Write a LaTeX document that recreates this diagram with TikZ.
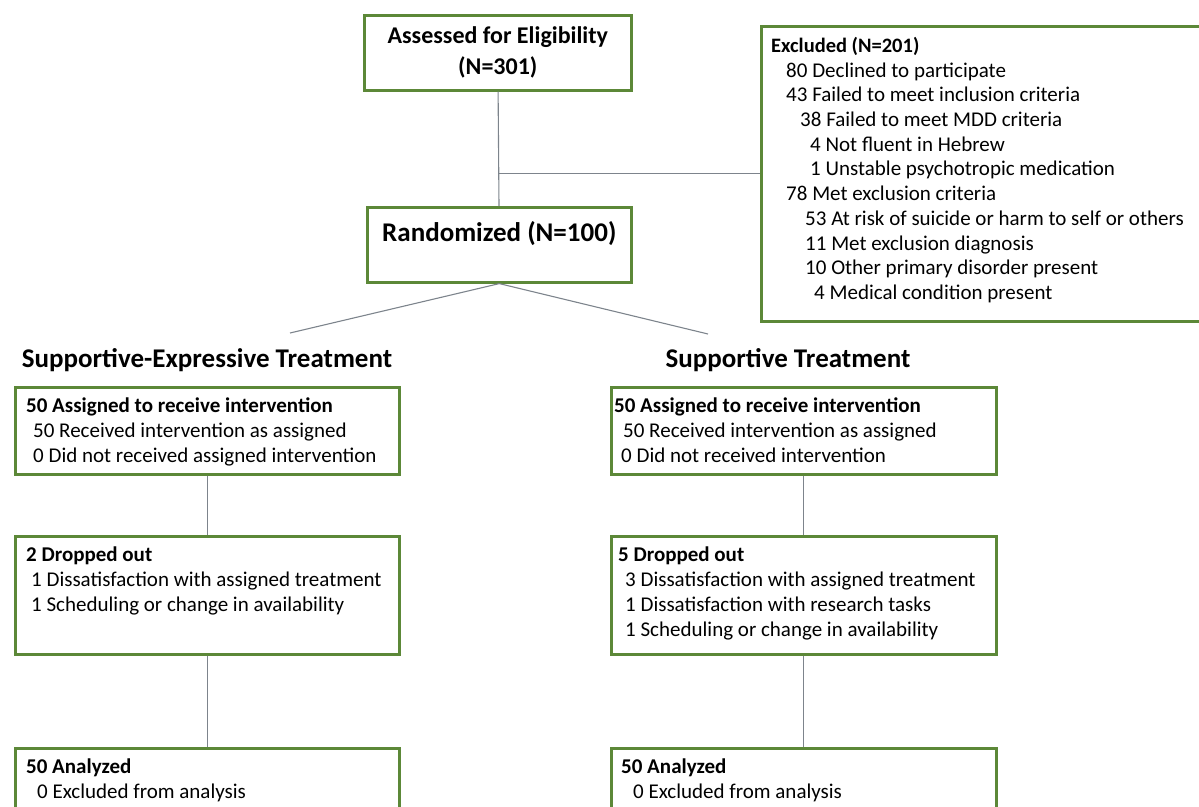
\documentclass[tikz,border=0pt]{standalone}
\usepackage{fontspec}
\setmainfont{Carlito}
\usetikzlibrary{positioning,calc}
\definecolor{boxgreen}{RGB}{92,136,56}
\definecolor{linkgray}{RGB}{125,132,140}

\begin{document}
\begin{tikzpicture}[x=1pt,y=-1pt,
  flowbox/.style={draw=boxgreen,line width=2.6pt,fill=white,inner sep=0pt,anchor=north west},
  boxtext/.style={anchor=north west,inner sep=0pt,align=left,font=\fontsize{21}{24.7}\selectfont},
  link/.style={draw=linkgray,line width=1.1pt},
  heading/.style={font=\fontsize{27}{30}\selectfont\bfseries}]
\useasboundingbox (0,0) rectangle (1199,806);
\clip (0,0) rectangle (1199,806);
% enrolment
\node[flowbox,minimum width=267pt,minimum height=75pt,align=center,font=\fontsize{24}{31}\selectfont\bfseries] (assess) at (363,14) {Assessed for Eligibility\\(N=301)};
\node[flowbox,minimum width=455pt,minimum height=295pt] (excl) at (760,25) {};
\node[boxtext] (exclt) at (771,37) {{\fontsize{20.5}{24.7}\selectfont\bfseries Excluded (N=201)}\\
\hspace*{15pt}80 Declined to participate\\
\hspace*{15pt}43 Failed to meet inclusion criteria\\
\hspace*{29pt}38 Failed to meet MDD criteria\\
\hspace*{39pt}4 Not fluent in Hebrew\\
\hspace*{39pt}1 Unstable psychotropic medication\\
\hspace*{15pt}78 Met exclusion criteria\\
\hspace*{34pt}53 At risk of suicide or harm to self or others\\
\hspace*{34pt}11 Met exclusion diagnosis\\
\hspace*{34pt}10 Other primary disorder present\\
\hspace*{43pt}4 Medical condition present};
\node[flowbox,minimum width=264pt,minimum height=75pt] (rand) at (366,206) {};
\node[heading,anchor=north,inner sep=0pt] (randt) at ([yshift=-15]rand.north) {Randomized (N=100)};
\draw[link] (assess) -- (rand);
\draw[link] (excl.west) -- (excl.west -| assess.south);
% allocation
\coordinate (seend) at (290,333);
\coordinate (stend) at (708,334);
\draw[link] (rand.south) -- (seend);
\draw[link] (rand.south) -- (stend);
\node[heading] (sehead) at (207,360) {Supportive-Expressive Treatment};
\node[heading] (sthead) at (788,360) {Supportive Treatment};
% supportive-expressive arm
\node[flowbox,minimum width=384pt,minimum height=87pt] (se1) at (14,386) {};
\node[boxtext] (se1t) at ([xshift=12,yshift=-12]se1.north west) {\textbf{50 Assigned to receive intervention}\\
\hspace*{7pt}50 Received intervention as assigned\\
\hspace*{7pt}0 Did not received assigned intervention};
\node[flowbox,minimum width=384pt,minimum height=118pt] (se2) at (14,535) {};
\node[boxtext] (se2t) at ([xshift=12,yshift=-12]se2.north west) {\textbf{2 Dropped out}\\
\hspace*{5pt}1 Dissatisfaction with assigned treatment\\
\hspace*{5pt}1 Scheduling or change in availability};
\node[flowbox,minimum width=384pt,minimum height=100pt] (se3) at (14,747) {};
\node[boxtext] (se3t) at ([xshift=12,yshift=-12]se3.north west) {\textbf{50 Analyzed}\\
\hspace*{11pt}0 Excluded from analysis};
\draw[link] (se1) -- (se2);
\draw[link] (se2) -- (se3);
% supportive arm
\node[flowbox,minimum width=385pt,minimum height=87pt] (st1) at (610,386) {};
\node[boxtext] (st1t) at ([xshift=4,yshift=-12]st1.north west) {\textbf{50 Assigned to receive intervention}\\
\hspace*{9pt}50 Received intervention as assigned\\
\hspace*{7pt}0 Did not received intervention};
\node[flowbox,minimum width=385pt,minimum height=118pt] (st2) at (610,535) {};
\node[boxtext] (st2t) at ([xshift=8,yshift=-12]st2.north west) {\textbf{5 Dropped out}\\
\hspace*{7pt}3 Dissatisfaction with assigned treatment\\
\hspace*{7pt}1 Dissatisfaction with research tasks\\
\hspace*{7pt}1 Scheduling or change in availability};
\node[flowbox,minimum width=385pt,minimum height=100pt] (st3) at (610,747) {};
\node[boxtext] (st3t) at ([xshift=11,yshift=-12]st3.north west) {\textbf{50 Analyzed}\\
\hspace*{12pt}0 Excluded from analysis};
\draw[link] (st1) -- (st2);
\draw[link] (st2) -- (st3);
\end{tikzpicture}
\end{document}
